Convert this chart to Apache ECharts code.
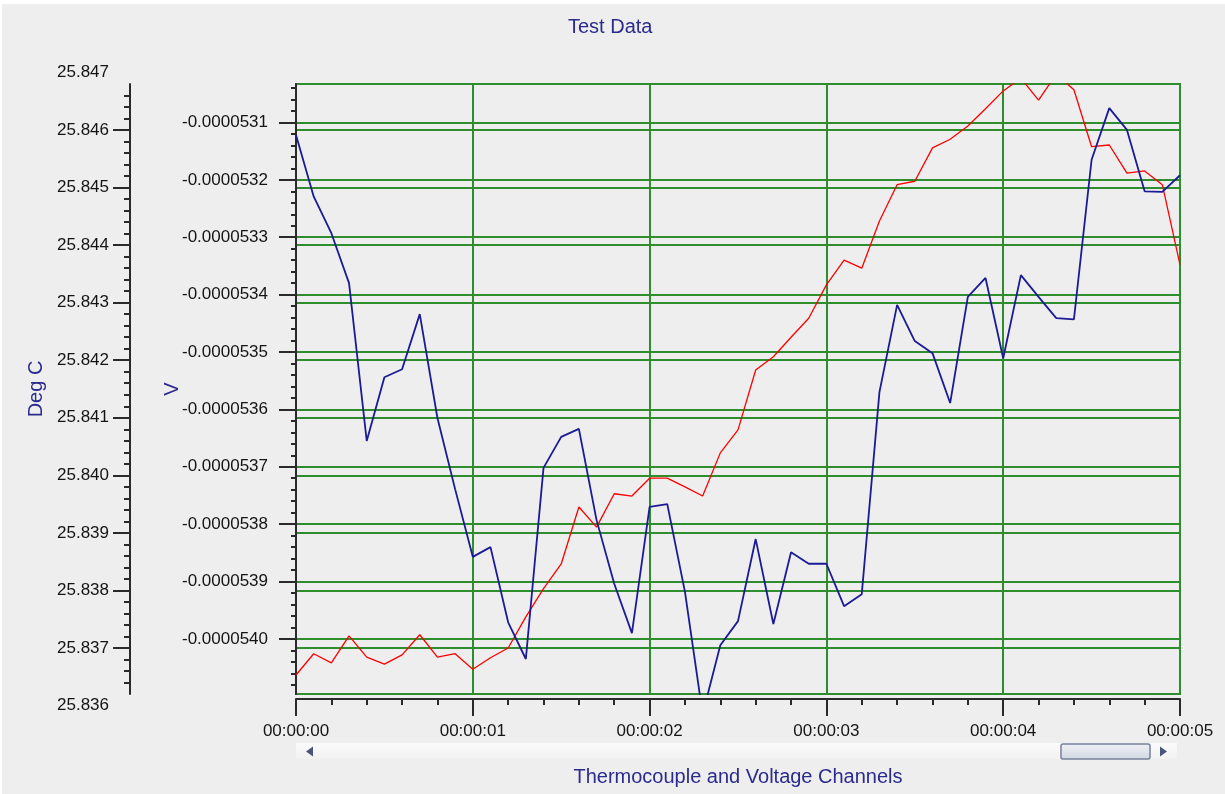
<!DOCTYPE html>
<html>
<head>
<meta charset="utf-8">
<title>Test Data</title>
<script src="https://cdn.jsdelivr.net/npm/echarts@6/dist/echarts.min.js"></script>
<style>
  html, body { margin: 0; padding: 0; background: #ffffff; }
  #chart { width: 1225px; height: 794px; }
</style>
</head>
<body>
<div id="chart"></div>
<script>
// Sample times in seconds (one sample every 100 ms)
const times = [
  0.0, 0.1, 0.2, 0.3, 0.4, 0.5, 0.6, 0.7, 0.8, 0.9,
  1.0, 1.1, 1.2, 1.3, 1.4, 1.5, 1.6, 1.7, 1.8, 1.9,
  2.0, 2.1, 2.2, 2.3, 2.4, 2.5, 2.6, 2.7, 2.8, 2.9,
  3.0, 3.1, 3.2, 3.3, 3.4, 3.5, 3.6, 3.7, 3.8, 3.9,
  4.0, 4.1, 4.2, 4.3, 4.4, 4.5, 4.6, 4.7, 4.8, 4.9,
  5.0
];

// Thermocouple channel (Deg C)
const thermocouple = [
  25.83653, 25.83690, 25.83674, 25.83721, 25.83684, 25.83672, 25.83688, 25.83723, 25.83684, 25.83690,
  25.83663, 25.83683, 25.83700, 25.83754, 25.83803, 25.83846, 25.83945, 25.83910, 25.83968, 25.83964,
  25.83995, 25.83995, 25.83980, 25.83964, 25.84039, 25.84079, 25.84183, 25.84206, 25.84240, 25.84273,
  25.84331, 25.84374, 25.84360, 25.84442, 25.84505, 25.84511, 25.84569, 25.84584, 25.84607, 25.84637,
  25.84668, 25.84690, 25.84652, 25.84697, 25.84670, 25.84571, 25.84574, 25.84525, 25.84529, 25.84505,
  25.84366
];

// Voltage channel (V)
const voltage = [
  -0.000053122, -0.000053229, -0.000053293, -0.000053380, -0.000053655, -0.000053544, -0.000053530, -0.000053434, -0.000053615, -0.000053739,
  -0.000053857, -0.000053840, -0.000053971, -0.000054035, -0.000053702, -0.000053648, -0.000053634, -0.000053793, -0.000053904, -0.000053990,
  -0.000053770, -0.000053765, -0.000053918, -0.000054131, -0.000054011, -0.000053969, -0.000053826, -0.000053974, -0.000053849, -0.000053869,
  -0.000053869, -0.000053943, -0.000053922, -0.000053570, -0.000053418, -0.000053481, -0.000053502, -0.000053589, -0.000053404, -0.000053371,
  -0.000053511, -0.000053366, -0.000053404, -0.000053441, -0.000053443, -0.000053165, -0.000053075, -0.000053113, -0.000053220, -0.000053221,
  -0.000053192
];

// Axis tick labels
const timeLabels = ['00:00:00', '00:00:01', '00:00:02', '00:00:03', '00:00:04', '00:00:05'];
const degCLabels = [25.836, 25.837, 25.838, 25.839, 25.840, 25.841, 25.842, 25.843, 25.844, 25.845, 25.846, 25.847];
const degCMajor = [25.837, 25.838, 25.839, 25.840, 25.841, 25.842, 25.843, 25.844, 25.845, 25.846];
const voltLabels = [-0.0000540, -0.0000539, -0.0000538, -0.0000537, -0.0000536, -0.0000535, -0.0000534, -0.0000533, -0.0000532, -0.0000531];

// Visible ranges of the two value axes
const degCRange = [25.8362, 25.8468];
const voltRange = [-0.000054096, -0.000053033];

const FONT = 'Liberation Sans, Arial, sans-serif';
const NAME_COLOR = '#2b2b8f';
const LABEL_COLOR = '#141414';
const AXIS_COLOR = '#2a2a2a';
const GRID_GREEN = '#2e8e2e';

const plot = { left: 296, top: 84, width: 884, height: 610 };
// the Deg C labels sit on their own strip that extends past the plot to the whole-step values
const degCPx = plot.height / (degCRange[1] - degCRange[0]);
const labelStrip = {
  left: 130,
  top: plot.top - (degCLabels[degCLabels.length - 1] - degCRange[1]) * degCPx,
  width: 10,
  height: (degCLabels[degCLabels.length - 1] - degCLabels[0]) * degCPx
};

const chart = echarts.init(document.getElementById('chart'), null, { renderer: 'canvas' });

chart.setOption({
  animation: false,
  backgroundColor: '#eeeeee',
  textStyle: { fontFamily: FONT },
  title: {
    text: 'Test Data',
    left: 563,
    top: 12,
    textStyle: { color: NAME_COLOR, fontSize: 20, fontWeight: 'normal', fontFamily: FONT }
  },
  grid: [
    {
      left: plot.left, top: plot.top, width: plot.width, height: plot.height,
      show: true, borderColor: GRID_GREEN, borderWidth: 2, backgroundColor: 'transparent'
    },
    {
      left: labelStrip.left, top: labelStrip.top, width: labelStrip.width, height: labelStrip.height,
      show: false
    }
  ],
  xAxis: [
    {
      type: 'value',
      gridIndex: 0,
      min: 0,
      max: 5,
      interval: 1,
      position: 'bottom',
      offset: 5,
      name: 'Thermocouple and Voltage Channels',
      nameLocation: 'middle',
      nameGap: 68,
      nameTextStyle: { color: NAME_COLOR, fontSize: 20, fontFamily: FONT },
      axisLine: { show: true, onZero: false, lineStyle: { color: AXIS_COLOR, width: 2 } },
      axisTick: { show: true, length: 17, lineStyle: { color: AXIS_COLOR, width: 2 } },
      minorTick: { show: true, splitNumber: 5, length: 6, lineStyle: { color: AXIS_COLOR, width: 2 } },
      axisLabel: {
        show: true, margin: 24, color: LABEL_COLOR, fontSize: 17, fontFamily: FONT,
        formatter: function (v) { return timeLabels[Math.round(v)]; }
      },
      splitLine: { show: true, lineStyle: { color: GRID_GREEN, width: 2 } }
    },
    {
      type: 'value',
      gridIndex: 1,
      min: 0,
      max: 1,
      show: false
    }
  ],
  yAxis: [
    {
      // voltage axis
      type: 'value',
      gridIndex: 0,
      min: voltRange[0],
      max: voltRange[1],
      minInterval: 0.0000001,
      maxInterval: 0.0000001,
      position: 'left',
      offset: 6,
      name: 'V',
      nameLocation: 'middle',
      nameRotate: 90,
      nameGap: 108,
      nameMoveOverlap: false,
      nameTextStyle: { color: NAME_COLOR, fontSize: 20, fontFamily: FONT },
      axisLine: { show: true, lineStyle: { color: AXIS_COLOR, width: 2 } },
      axisTick: { show: true, length: 17, customValues: voltLabels, lineStyle: { color: AXIS_COLOR, width: 2 } },
      minorTick: { show: true, splitNumber: 5, length: 5, lineStyle: { color: AXIS_COLOR, width: 2 } },
      axisLabel: {
        show: true, margin: 22, color: LABEL_COLOR, fontSize: 17, fontFamily: FONT,
        customValues: voltLabels,
        formatter: function (v) { return v.toFixed(7); }
      },
      splitLine: { show: true, lineStyle: { color: GRID_GREEN, width: 2 } }
    },
    {
      // Deg C axis line, ticks and grid lines
      type: 'value',
      gridIndex: 0,
      min: degCRange[0],
      max: degCRange[1],
      minInterval: 0.001,
      maxInterval: 0.001,
      position: 'left',
      offset: plot.left - labelStrip.left,
      axisLine: { show: true, lineStyle: { color: AXIS_COLOR, width: 2 } },
      axisTick: { show: true, length: 17, customValues: degCMajor, lineStyle: { color: AXIS_COLOR, width: 2 } },
      minorTick: { show: true, splitNumber: 5, length: 6, lineStyle: { color: AXIS_COLOR, width: 2 } },
      axisLabel: { show: false },
      splitLine: { show: true, lineStyle: { color: GRID_GREEN, width: 2 } }
    },
    {
      // Deg C tick labels
      type: 'value',
      gridIndex: 1,
      min: degCLabels[0],
      max: degCLabels[degCLabels.length - 1],
      interval: 0.001,
      position: 'left',
      name: 'Deg C',
      nameLocation: 'middle',
      nameRotate: 90,
      nameGap: 84,
      nameMoveOverlap: false,
      nameTextStyle: { color: NAME_COLOR, fontSize: 20, fontFamily: FONT },
      axisLine: { show: false },
      axisTick: { show: false },
      splitLine: { show: false },
      axisLabel: {
        show: true, margin: 21, color: LABEL_COLOR, fontSize: 17, fontFamily: FONT,
        showMinLabel: true, showMaxLabel: true,
        formatter: function (v) { return v.toFixed(3); }
      }
    }
  ],
  series: [
    {
      name: 'Thermocouple',
      type: 'line',
      xAxisIndex: 0,
      yAxisIndex: 1,
      symbol: 'none',
      clip: true,
      lineStyle: { color: '#ff0000', width: 1.3 },
      data: times.map((t, i) => [t, thermocouple[i]])
    },
    {
      name: 'Voltage',
      type: 'line',
      xAxisIndex: 0,
      yAxisIndex: 0,
      symbol: 'none',
      clip: true,
      lineStyle: { color: '#1b1b96', width: 1.8 },
      data: times.map((t, i) => [t, voltage[i]])
    }
  ],
  graphic: [
    // window frame edges
    { type: 'rect', shape: { x: 0, y: 0, width: 1225, height: 4 }, style: { fill: '#ffffff' }, silent: true },
    { type: 'rect', shape: { x: 0, y: 0, width: 2, height: 794 }, style: { fill: '#ffffff' }, silent: true },
    // horizontal scroll bar under the time axis
    {
      type: 'rect',
      shape: { x: 296, y: 743, width: 881, height: 16 },
      style: {
        fill: new echarts.graphic.LinearGradient(0, 0, 0, 1, [
          { offset: 0, color: '#fbfbfb' }, { offset: 1, color: '#f1f1f1' }
        ])
      },
      silent: true
    },
    {
      type: 'polygon',
      shape: { points: [[313, 746.5], [313, 756.5], [306, 751.5]] },
      style: { fill: '#4a5478' },
      silent: true
    },
    {
      type: 'polygon',
      shape: { points: [[1160, 746.5], [1160, 756.5], [1167, 751.5]] },
      style: { fill: '#4a5478' },
      silent: true
    },
    {
      type: 'rect',
      shape: { x: 1061, y: 744, width: 89, height: 15, r: 2 },
      style: {
        fill: new echarts.graphic.LinearGradient(0, 0, 0, 1, [
          { offset: 0, color: '#eef1f6' }, { offset: 1, color: '#d2d8e2' }
        ]),
        stroke: '#75829b',
        lineWidth: 1.5
      },
      silent: true
    }
  ]
});
</script>
</body>
</html>
